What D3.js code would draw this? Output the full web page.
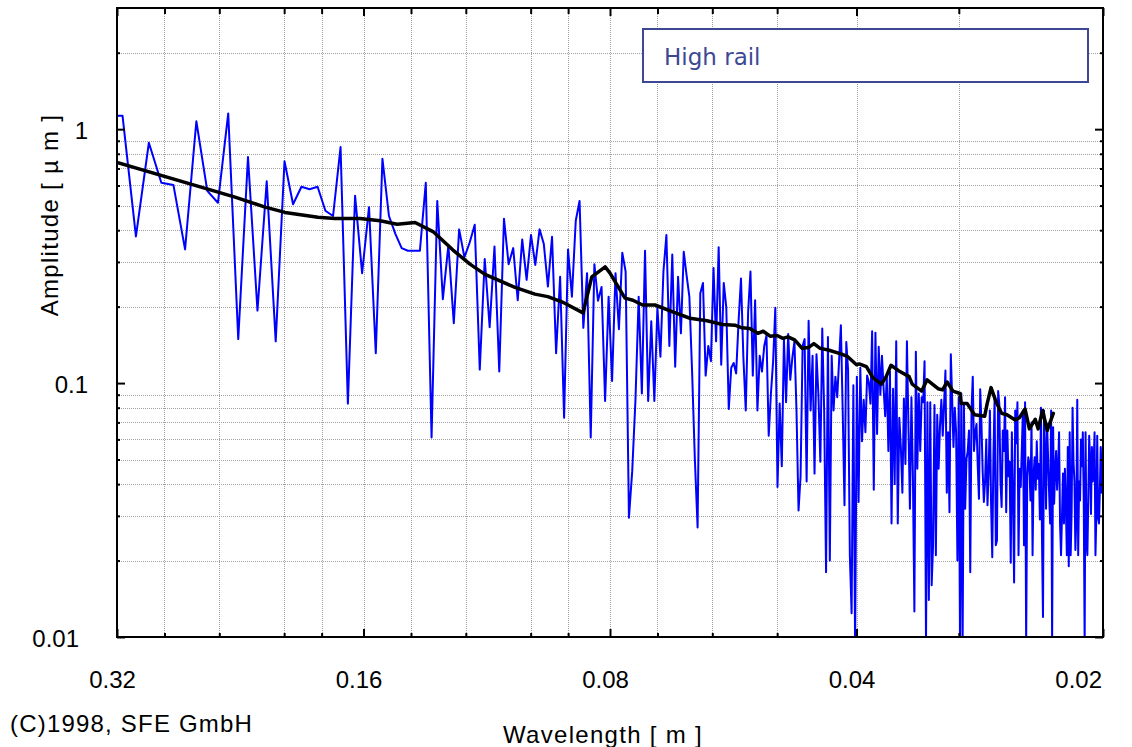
<!DOCTYPE html>
<html>
<head>
<meta charset="utf-8">
<script src="https://cdn.jsdelivr.net/npm/d3@7"></script>
<style>
  body { margin: 0; background: #fff; }
  svg text { font-family: "Liberation Sans", Arial, sans-serif; fill: #000; }
</style>
</head>
<body>
<div id="chart"></div>
<script>
// spectrum lines are spaced 1/8.192 m^-1 apart, first line shown is bin 25
var BIN_STEP = 1 / 8.192;
var FIRST_BIN = 25;

// amplitude [um] of each spectral line, bins 25..410
var amplitude = [
  1.13, 1.13, 0.378, 0.884, 0.615, 0.603, 0.336, 1.074, 0.571, 0.513,   // 25
  1.153, 0.149, 0.776, 0.193, 0.623, 0.146, 0.747, 0.506, 0.593, 0.580, // 35
  0.593, 0.477, 0.455, 0.85, 0.083, 0.547, 0.271, 0.493, 0.131, 0.764,  // 45
  0.455, 0.387, 0.34, 0.332, 0.332, 0.332, 0.615, 0.061, 0.521, 0.214,  // 55
  0.349, 0.172, 0.403, 0.313, 0.357, 0.42, 0.113, 0.308, 0.166, 0.345,  // 65
  0.111, 0.444, 0.294, 0.34, 0.212, 0.368, 0.255, 0.383, 0.292, 0.403,  // 75
  0.354, 0.240, 0.377, 0.131, 0.262, 0.073, 0.336, 0.219, 0.436, 0.521, // 85
  0.165, 0.271, 0.061, 0.294, 0.211, 0.239, 0.085, 0.219, 0.102, 0.271, // 95
  0.163, 0.326, 0.275, 0.0295, 0.045, 0.086, 0.219, 0.091, 0.332, 0.085, // 105
  0.175, 0.085, 0.198, 0.127, 0.275, 0.383, 0.140, 0.321, 0.116, 0.262, // 115
  0.157, 0.329, 0.266, 0.219, 0.11, 0.05, 0.027, 0.226, 0.248, 0.107,   // 125
  0.140, 0.122, 0.284, 0.146, 0.343, 0.118, 0.248, 0.199, 0.079, 0.115, // 135
  0.12, 0.109, 0.175, 0.258, 0.126, 0.078, 0.19, 0.275, 0.107, 0.212,   // 145
  0.078, 0.128, 0.111, 0.14, 0.154, 0.062, 0.091, 0.122, 0.198, 0.039,  // 155
  0.083, 0.047, 0.149, 0.084, 0.156, 0.103, 0.126, 0.146, 0.078, 0.0315, // 165
  0.043, 0.14, 0.149, 0.041, 0.176, 0.078, 0.128, 0.044, 0.13, 0.09,    // 175
  0.049, 0.164, 0.078, 0.018, 0.152, 0.020, 0.128, 0.078, 0.106, 0.088, // 185
  0.122, 0.169, 0.078, 0.033, 0.145, 0.113, 0.021, 0.0124, 0.098, 0.009, // 195
  0.106, 0.034, 0.115, 0.059, 0.086, 0.064, 0.107, 0.101, 0.083, 0.16,  // 205
  0.038, 0.158, 0.063, 0.139, 0.09, 0.128, 0.096, 0.074, 0.107, 0.054,  // 215
  0.111, 0.028, 0.095, 0.040, 0.146, 0.028, 0.073, 0.056, 0.037, 0.087, // 225
  0.048, 0.146, 0.068, 0.032, 0.088, 0.043, 0.0126, 0.133, 0.046, 0.091, // 235
  0.054, 0.088, 0.084, 0.122, 0.0095, 0.084, 0.014, 0.084, 0.016, 0.023, // 245
  0.082, 0.021, 0.075, 0.046, 0.068, 0.086, 0.062, 0.083, 0.112, 0.037, // 255
  0.064, 0.031, 0.130, 0.087, 0.056, 0.080, 0.064, 0.020, 0.088, 0.0095, // 265
  0.091, 0.009, 0.083, 0.032, 0.05, 0.054, 0.065, 0.018, 0.078, 0.106,  // 275
  0.054, 0.064, 0.069, 0.047, 0.035, 0.0945, 0.07, 0.045, 0.034, 0.041, // 285
  0.060, 0.033, 0.045, 0.078, 0.0335, 0.0206, 0.052, 0.088, 0.023, 0.024, // 295
  0.093, 0.083, 0.041, 0.0325, 0.065, 0.054, 0.088, 0.031, 0.065, 0.043, // 305
  0.049, 0.0196, 0.064, 0.036, 0.0164, 0.078, 0.058, 0.084, 0.021, 0.046, // 315
  0.039, 0.055, 0.078, 0.023, 0.084, 0.0095, 0.043, 0.051, 0.048, 0.0345, // 325
  0.070, 0.021, 0.044, 0.051, 0.038, 0.059, 0.042, 0.048, 0.029, 0.080, // 335
  0.025, 0.012, 0.078, 0.054, 0.032, 0.069, 0.051, 0.037, 0.028, 0.078, // 345
  0.0095, 0.067, 0.0335, 0.045, 0.054, 0.038, 0.046, 0.064, 0.028, 0.021, // 355
  0.030, 0.044, 0.028, 0.046, 0.033, 0.021, 0.056, 0.019, 0.064, 0.021, // 365
  0.031, 0.080, 0.049, 0.041, 0.022, 0.0295, 0.086, 0.021, 0.041, 0.0345, // 375
  0.060, 0.047, 0.064, 0.035, 0.0095, 0.064, 0.024, 0.021, 0.035, 0.062, // 385
  0.049, 0.0305, 0.056, 0.041, 0.049, 0.064, 0.021, 0.030, 0.062, 0.0295, // 395
  0.028, 0.038, 0.056, 0.037, 0.042, 0.07                                // 405
];

// smoothed (band averaged) curve
var smoothWavelength = [
  0.32, 0.2296, 0.211, 0.1995, 0.1819, 0.1734, 0.1616, 0.1527, 0.1456, 0.1384,
  0.1316, 0.1244, 0.1186, 0.1137, 0.1045, 0.0988, 0.0953, 0.0916, 0.0863, 0.0842,
  0.0811, 0.0800, 0.0767, 0.0750, 0.0730, 0.0705, 0.0663, 0.0639, 0.0609, 0.0583,
  0.0563, 0.0552, 0.0540, 0.0528, 0.0520, 0.0510, 0.0500, 0.0492, 0.0485, 0.0476,
  0.0466, 0.0458, 0.0451, 0.0443, 0.0433, 0.0417, 0.0410, 0.0400, 0.0397, 0.0389,
  0.0382, 0.0373, 0.0368, 0.0363, 0.0354, 0.0345, 0.0342, 0.0333, 0.0328, 0.0318,
  0.0314, 0.0310, 0.0305, 0.0299, 0.0298, 0.0293, 0.0287, 0.0279, 0.0277, 0.0274,
  0.0270, 0.0266, 0.0262, 0.0256, 0.0253, 0.0249, 0.0246, 0.0242, 0.0240, 0.0237,
  0.0234, 0.0230
];
var smoothAmplitude = [
  0.74, 0.54, 0.493, 0.47, 0.45, 0.445, 0.445, 0.436, 0.422, 0.429,
  0.395, 0.334, 0.294, 0.268, 0.238, 0.224, 0.219, 0.209, 0.189, 0.262,
  0.287, 0.271, 0.216, 0.212, 0.203, 0.203, 0.188, 0.180, 0.176, 0.170,
  0.169, 0.165, 0.164, 0.157, 0.160, 0.153, 0.154, 0.150, 0.152, 0.148,
  0.137, 0.138, 0.143, 0.137, 0.135, 0.130, 0.127, 0.118, 0.119, 0.116,
  0.105, 0.099, 0.106, 0.1175, 0.111, 0.106, 0.099, 0.093, 0.103, 0.095,
  0.094, 0.101, 0.093, 0.091, 0.083, 0.083, 0.075, 0.074, 0.083, 0.096,
  0.084, 0.076, 0.075, 0.0716, 0.073, 0.079, 0.066, 0.072, 0.066, 0.078,
  0.065, 0.076
];

var xMajorTicks = [0.32, 0.16, 0.08, 0.04, 0.02];
var xMinorTicks = [0.28, 0.24, 0.2, 0.18, 0.14, 0.12, 0.1, 0.09, 0.07, 0.06, 0.05, 0.03];
var yMajorTicks = [0.01, 0.1, 1];
var yMinorTicks = [0.02, 0.03, 0.04, 0.05, 0.06, 0.07, 0.08, 0.09,
                   0.2, 0.3, 0.4, 0.5, 0.6, 0.7, 0.8, 0.9, 2];
var legendLabel = "High rail";

var width = 1132, height = 747;
var plot = {left: 117, right: 1103, top: 8, bottom: 637};
var legendColor = "#3d4894";

var svg = d3.select("#chart").append("svg")
    .attr("width", width)
    .attr("height", height);

var x = d3.scaleLog().domain([0.32, 0.02]).range([plot.left, plot.right]);
var y = d3.scaleLog().domain([0.01, 3]).range([plot.bottom, plot.top]);

var spectrum = amplitude.map(function(a, i) {
    return {w: 1 / ((FIRST_BIN + i) * BIN_STEP), a: a};
});
var smooth = smoothWavelength.map(function(w, i) {
    return {w: w, a: smoothAmplitude[i]};
});

svg.append("clipPath").attr("id", "plotclip")
    .append("rect")
    .attr("x", plot.left).attr("y", plot.top)
    .attr("width", plot.right - plot.left)
    .attr("height", plot.bottom - plot.top);

// dotted grid
var grid = svg.append("g").attr("class", "grid")
    .attr("stroke", "#a0a0a0")
    .attr("stroke-width", 1)
    .attr("stroke-dasharray", "1,1")
    .attr("shape-rendering", "crispEdges");

grid.selectAll("line.v")
    .data(xMinorTicks.concat(xMajorTicks.slice(1, -1)))
    .enter().append("line")
    .attr("class", "v")
    .attr("x1", function(d) { return Math.round(x(d)) + 0.5; })
    .attr("x2", function(d) { return Math.round(x(d)) + 0.5; })
    .attr("y1", plot.top)
    .attr("y2", plot.bottom);

grid.selectAll("line.h")
    .data(yMinorTicks)
    .enter().append("line")
    .attr("class", "h")
    .attr("x1", plot.left)
    .attr("x2", plot.right)
    .attr("y1", function(d) { return Math.round(y(d)) + 0.5; })
    .attr("y2", function(d) { return Math.round(y(d)) + 0.5; });

// data
var line = d3.line()
    .x(function(d) { return x(d.w); })
    .y(function(d) { return y(d.a); });

var data = svg.append("g").attr("clip-path", "url(#plotclip)");

data.append("path")
    .datum(spectrum)
    .attr("d", line)
    .attr("fill", "none")
    .attr("stroke", "#0000ff")
    .attr("stroke-width", 2)
    .attr("stroke-linejoin", "round");

data.append("path")
    .datum(smooth)
    .attr("d", line)
    .attr("fill", "none")
    .attr("stroke", "#000")
    .attr("stroke-width", 3.5)
    .attr("stroke-linejoin", "round")
    .attr("stroke-linecap", "round");

// tick marks (pointing inward) on all four sides
function tickAxis(axis, transform) {
    var g = svg.append("g").attr("transform", transform).call(axis);
    g.select(".domain").remove();
    g.selectAll("text").remove();
    g.selectAll("line").attr("stroke", "#000").attr("stroke-width", 2);
    return g;
}

tickAxis(d3.axisBottom(x).tickValues(xMinorTicks).tickSize(-4), "translate(0," + plot.bottom + ")");
tickAxis(d3.axisBottom(x).tickValues(xMajorTicks).tickSize(-8), "translate(0," + plot.bottom + ")");
tickAxis(d3.axisTop(x).tickValues(xMinorTicks).tickSize(-6), "translate(0," + plot.top + ")");
tickAxis(d3.axisTop(x).tickValues(xMajorTicks).tickSize(-8), "translate(0," + plot.top + ")");
tickAxis(d3.axisLeft(y).tickValues(yMinorTicks).tickSize(-3), "translate(" + plot.left + ",0)");
tickAxis(d3.axisLeft(y).tickValues(yMajorTicks).tickSize(-8), "translate(" + plot.left + ",0)");
tickAxis(d3.axisRight(y).tickValues(yMinorTicks).tickSize(-3), "translate(" + plot.right + ",0)");
tickAxis(d3.axisRight(y).tickValues(yMajorTicks).tickSize(-8), "translate(" + plot.right + ",0)");

// frame
svg.append("rect")
    .attr("x", plot.left).attr("y", plot.top)
    .attr("width", plot.right - plot.left)
    .attr("height", plot.bottom - plot.top)
    .attr("fill", "none")
    .attr("stroke", "#000")
    .attr("stroke-width", 2);

// tick labels
var lastX = xMajorTicks[xMajorTicks.length - 1];
svg.append("g").selectAll("text")
    .data(xMajorTicks)
    .enter().append("text")
    .attr("x", function(d) { return d === lastX ? x(d) - 1 : x(d) - 4.5; })
    .attr("y", 688)
    .attr("text-anchor", function(d) { return d === lastX ? "end" : "middle"; })
    .style("font-size", "24px")
    .text(function(d) { return d3.format(".2f")(d); });

svg.append("g").selectAll("text")
    .data(yMajorTicks)
    .enter().append("text")
    .attr("x", function(d) { return d === yMajorTicks[0] ? 79 : 88; })
    .attr("y", function(d) { return y(d) + 10; })
    .attr("text-anchor", "end")
    .style("font-size", "24px")
    .text(function(d) { return String(d); });

// axis titles
svg.append("text")
    .attr("x", 603).attr("y", 743)
    .attr("text-anchor", "middle")
    .style("font-size", "24px")
    .style("letter-spacing", "1.3px")
    .text("Wavelength [ m ]");

svg.append("text")
    .attr("transform", "translate(58,215) rotate(-90)")
    .attr("text-anchor", "middle")
    .style("font-size", "24px")
    .style("letter-spacing", "1.3px")
    .text("Amplitude [ \u00b5 m ]");

svg.append("text")
    .attr("x", 10).attr("y", 732)
    .style("font-size", "24px")
    .style("letter-spacing", "1.2px")
    .text("(C)1998, SFE GmbH");

// legend
var legend = svg.append("g");
legend.append("rect")
    .attr("x", 643).attr("y", 29)
    .attr("width", 445).attr("height", 53)
    .attr("fill", "#fff")
    .attr("stroke", legendColor)
    .attr("stroke-width", 2);
legend.append("text")
    .attr("x", 664).attr("y", 65)
    .style("font-family", "'DejaVu Sans', Verdana, sans-serif")
    .style("font-size", "23px")
    .style("fill", legendColor)
    .text(legendLabel);
</script>
</body>
</html>
